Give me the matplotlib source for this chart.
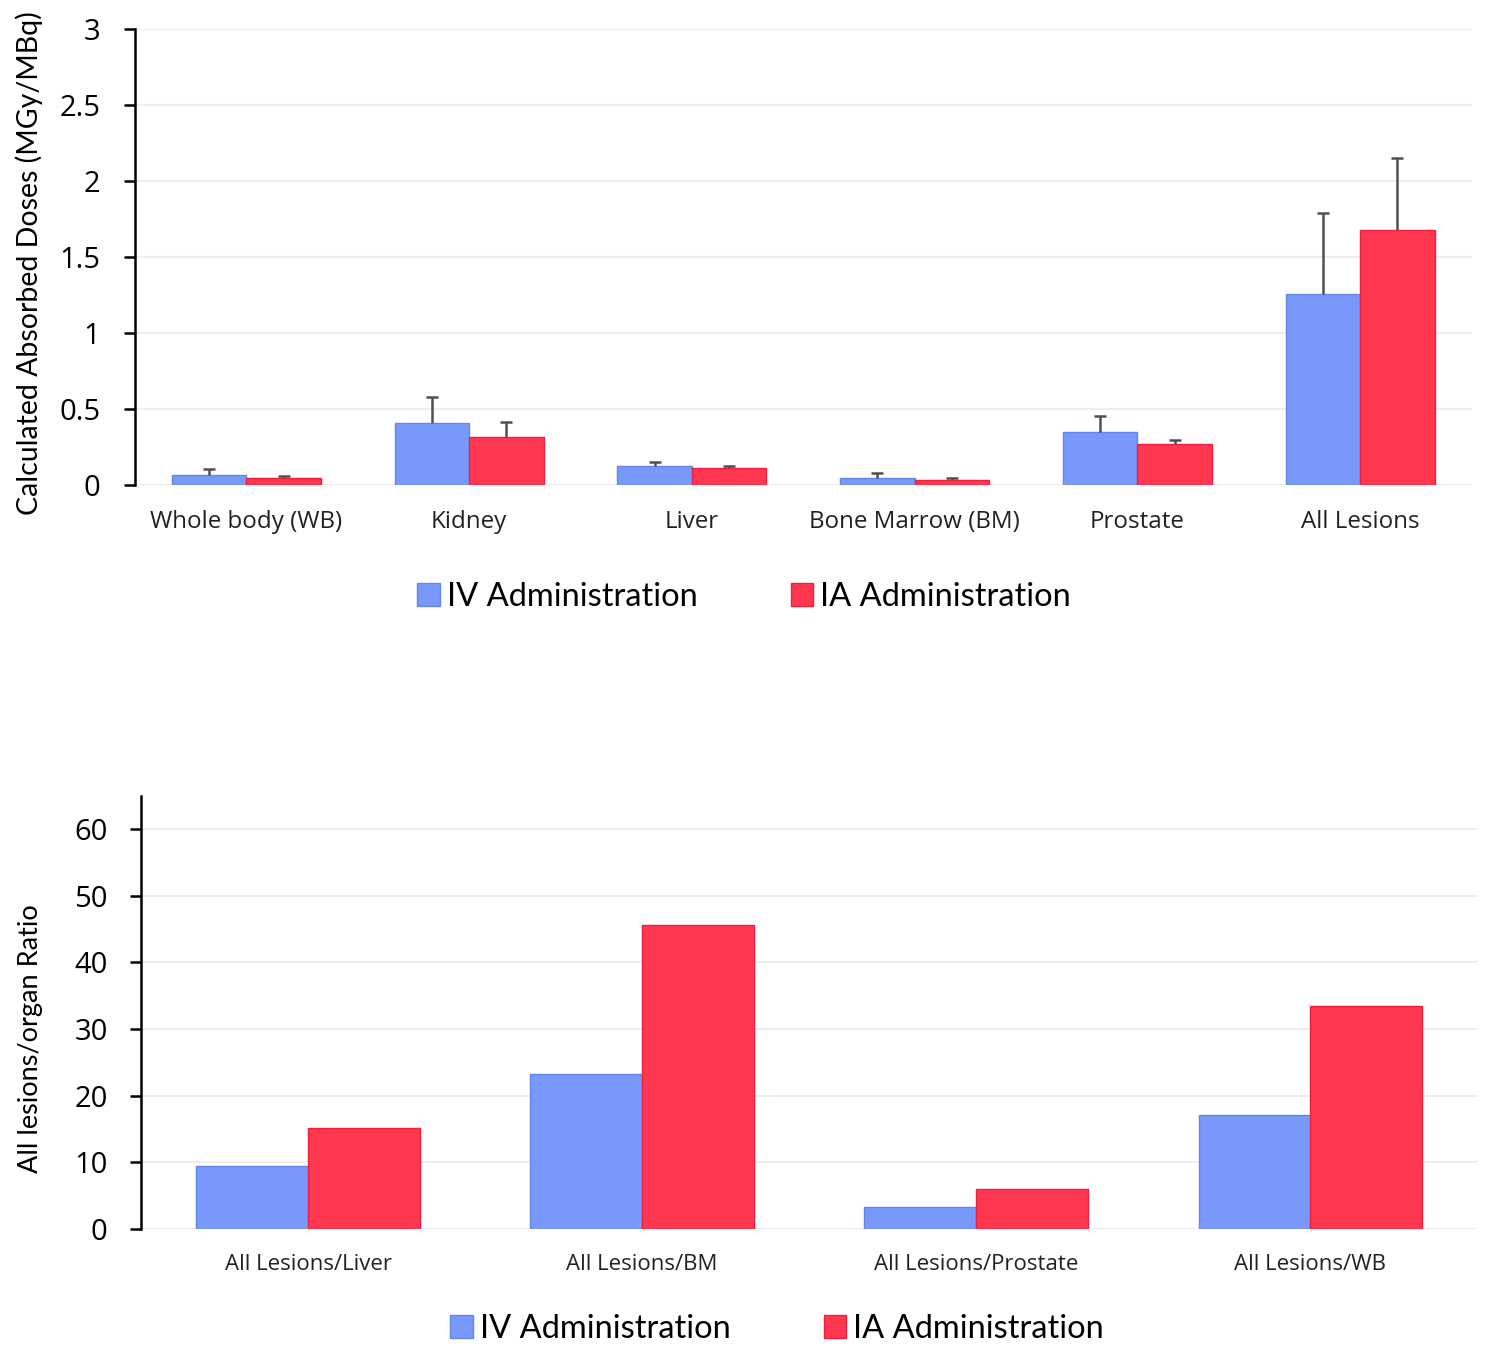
import numpy as np
import matplotlib
matplotlib.use("Agg")
import matplotlib.pyplot as plt
from matplotlib.patches import Patch

plt.rcParams["font.family"] = ["Lato", "DejaVu Sans"]

# Top chart: absorbed doses
organs = ["Whole body (WB)", "Kidney", "Liver", "Bone Marrow (BM)", "Prostate", "All Lesions"]
iv_dose = [0.066, 0.41, 0.125, 0.046, 0.347, 1.257]
iv_err = [0.04, 0.167, 0.028, 0.031, 0.107, 0.533]
ia_dose = [0.048, 0.314, 0.114, 0.035, 0.272, 1.676]
ia_err = [0.011, 0.100, 0.011, 0.009, 0.024, 0.473]

# Bottom chart: lesion/organ ratios
ratios = ["All Lesions/Liver", "All Lesions/BM", "All Lesions/Prostate", "All Lesions/WB"]
iv_ratio = [9.45, 23.25, 3.3, 17.1]
ia_ratio = [15.15, 45.6, 6.0, 33.45]

iv_color = "#7899fb"
iv_edge = "#6585ee"
ia_color = "#ff3750"
ia_edge = "#f0203c"
grid_color = "#eeeeee"

fig = plt.figure(figsize=(15, 13.59), dpi=100)
ax1 = fig.add_axes([0.090, 0.643, 0.891, 0.3357])
ax2 = fig.add_axes([0.094, 0.0957, 0.891, 0.3188])

w = 0.335


def style(ax, ylim, yticks, ylabel, xlabels, xfont, ylfont, ypad):
    ax.set_ylim(*ylim)
    ax.set_xlim(-0.5, len(xlabels) - 0.5)
    ax.set_yticks(yticks)
    ax.set_yticklabels([("%g" % t) for t in yticks], fontsize=21, family="Open Sans")
    ax.set_xticks(range(len(xlabels)))
    ax.set_xticklabels(xlabels, fontsize=xfont, family="Open Sans", color="#222222")
    ax.tick_params(axis="x", length=0, pad=18)
    ax.tick_params(axis="y", length=8, width=1.8, direction="out", pad=ypad)
    for s in ["top", "right", "bottom"]:
        ax.spines[s].set_visible(False)
    ax.spines["left"].set_linewidth(1.8)
    ax.yaxis.grid(True, color=grid_color, linewidth=1.5)
    ax.set_axisbelow(True)
    ax.set_ylabel(ylabel, fontsize=ylfont, labelpad=8)


def up_errors(ax, xs, tops, errs):
    # error bars drawn upward only, with a cap at the top
    ends = np.array(tops) + np.array(errs)
    ax.vlines(xs, tops, ends, color="#505050", linewidth=1.8, zorder=3)
    ax.plot(xs, ends, linestyle="none", marker="_", markersize=8,
            markeredgewidth=1.8, color="#505050", zorder=3)


x = np.arange(len(organs))
ax1.bar(x - w / 2, iv_dose, w, color=iv_color, edgecolor=iv_edge, linewidth=1)
ax1.bar(x + w / 2, ia_dose, w, color=ia_color, edgecolor=ia_edge, linewidth=1)
up_errors(ax1, x - w / 2, iv_dose, iv_err)
up_errors(ax1, x + w / 2, ia_dose, ia_err)
style(ax1, (0, 3), [0, 0.5, 1, 1.5, 2, 2.5, 3],
      "Calculated Absorbed Doses (MGy/MBq)", organs, 17.4, 20.5, 17)
ax1.yaxis.set_label_coords(-0.069, 0.487)

x2 = np.arange(len(ratios))
ax2.bar(x2 - w / 2, iv_ratio, w, color=iv_color, edgecolor=iv_edge, linewidth=1)
ax2.bar(x2 + w / 2, ia_ratio, w, color=ia_color, edgecolor=ia_edge, linewidth=1)
style(ax2, (0, 65), [0, 10, 20, 30, 40, 50, 60],
      "All lesions/organ Ratio", ratios, 16, 19.5, 16)
ax2.yaxis.set_label_coords(-0.073, 0.44)

handles = [Patch(facecolor=iv_color, edgecolor=iv_edge),
           Patch(facecolor=ia_color, edgecolor=ia_edge)]
names = ["IV Administration", "IA Administration"]
for (xc, yc) in [(0.496, 0.5605), (0.518, 0.0222)]:
    fig.legend(handles, names, loc="center", bbox_to_anchor=(xc, yc), ncol=2,
               frameon=False, fontsize=23.5, handlelength=0.7, handleheight=0.7,
               handletextpad=0.2, columnspacing=2.85)

fig.savefig("out.png", dpi=100)
